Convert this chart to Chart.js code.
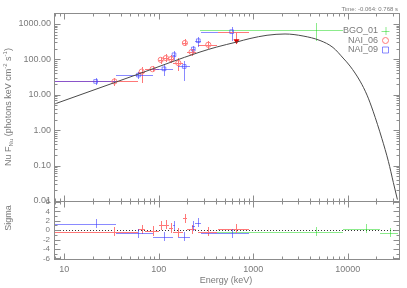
<!DOCTYPE html>
<html>
<head>
<meta charset="utf-8">
<title>Spectrum fit</title>
<script src="https://cdn.jsdelivr.net/npm/chart.js@4.4.1/dist/chart.umd.min.js"></script>
<style>
  body { margin: 0; background: #ffffff; }
  #chartBox { width: 407px; height: 288px; }
</style>
</head>
<body>
<div id="chartBox"><canvas id="spectrumChart" width="407" height="288"></canvas></div>
<script>
// Axis ranges and tick labels
const energyMin = 7.8;
const energyMax = 35000;
const fluxMin = 0.01;
const fluxMax = 2000;
const sigmaMin = -6.2;
const sigmaMax = 6.2;
const energyTicks = [10, 100, 1000, 10000];
const fluxTicks = [0.01, 0.1, 1, 10, 100, 1000];
const sigmaTicks = [-6, -4, -2, 0, 2, 4, 6];

// Model curve (keV / photons keV cm^-2 s^-1)
const modelEnergy = [7.8, 60.7, 273, 410, 667, 922, 1397, 2166, 3360, 5080, 6970, 8900, 10550, 13460, 15960, 18490, 22860, 26840, 30270, 33420];
const modelFlux = [5.42, 38.4, 161, 223, 309, 388, 479, 521, 457, 341, 216, 109, 64.6, 24.3, 9.75, 3.43, 0.59, 0.131, 0.0334, 0.011];

// NAI_06 (red) - bin centre, bin edges, flux with error range, residual
const nai06Energy = [34, 66, 86, 105, 119, 135, 161, 189, 222, 334, 664];
const nai06Low = [8, 60, 72, 100, 110, 128, 142, 180, 198, 258, 428];
const nai06High = [60, 72, 100, 110, 128, 142, 180, 198, 246, 410, 900];
const nai06Flux = [23.8, 45, 53, 97, 109, 102, 79, 290, 161, 259, null];
const nai06FluxLow = [18, 22, 43, 74, 82, 79, 48, 242, 127, 196, null];
const nai06FluxHigh = [29, 59, 65, 119, 141, 132, 109, 377, 196, 336, null];
const nai06Limit = [null, null, null, null, null, null, null, null, null, null, 605];
const nai06LimitTip = [null, null, null, null, null, null, null, null, null, null, 284];
const nai06Sigma = [-0.35, 0.15, -0.2, 1.0, 1.2, 0.5, -0.45, 2.5, 0.15, -0.35, 0.35];

// NAI_09 (blue)
const nai09Energy = [21.5, 61, 113.5, 145, 186, 232, 262, 590];
const nai09Low = [8, 35, 87, 140, 160, 222, 242, 282];
const nai09High = [35, 87, 140, 150, 212, 242, 282, 898];
const nai09Flux = [23.8, 35.9, 54, 135, 63, 196, 336, 605];
const nai09FluxLow = [18.7, 27.5, 34, 99, 25, 155, 220, 336];
const nai09FluxHigh = [29.5, 44.7, 74, 175, 92, 242, 420, 807];
const nai09Sigma = [1.36, -0.7, -1.4, 1.0, -1.4, 0.85, 1.6, -0.7];

// BGO_01 (green)
const bgo01Energy = [4587, 15400, 27950];
const bgo01Low = [273, 8900, 21900];
const bgo01High = [8900, 21900, 34000];
const bgo01Flux = [676, null, null];
const bgo01FluxLow = [340, null, null];
const bgo01FluxHigh = [1070, null, null];
const bgo01Sigma = [-0.35, 0.3, -0.55];

// Red is solid, blue is see-through so the overlap turns purple
const RED = '#ff7878';
const BLUE = 'rgba(60, 60, 255, 0.6)';
const GREEN = 'rgba(0, 210, 0, 0.45)';
const DARK_RED = '#e00000';
const AXIS = '#8c8c8c';
const TEXT = '#7a7a7a';
const FONT = '"Liberation Sans", Arial, sans-serif';

const detectors = [
  { name: 'BGO_01', color: GREEN, style: 'cross', energy: bgo01Energy, low: bgo01Low, high: bgo01High,
    flux: bgo01Flux, fluxLow: bgo01FluxLow, fluxHigh: bgo01FluxHigh, sigma: bgo01Sigma },
  { name: 'NAI_06', color: RED, style: 'circle', energy: nai06Energy, low: nai06Low, high: nai06High,
    flux: nai06Flux, fluxLow: nai06FluxLow, fluxHigh: nai06FluxHigh, sigma: nai06Sigma },
  { name: 'NAI_09', color: BLUE, style: 'rect', energy: nai09Energy, low: nai09Low, high: nai09High,
    flux: nai09Flux, fluxLow: nai09FluxLow, fluxHigh: nai09FluxHigh, sigma: nai09Sigma }
];

// Snap to pixel centre for 1px lines
function crisp(v) {
  return Math.round(v) + 0.5;
}

// 1..9 x 10^n tick positions inside a log range
function logTickList(min, max) {
  const list = [];
  for (let p = Math.floor(Math.log10(min)); p <= Math.ceil(Math.log10(max)); p++) {
    for (let m = 1; m < 10; m++) {
      const v = m * Math.pow(10, p);
      if (v >= min * 0.999 && v <= max * 1.001) list.push({ v: v, major: m === 1 });
    }
  }
  return list;
}

// Horizontal bin bars and vertical error bars, clipped to one panel
function drawErrorBars(ctx, xs, ys, det, useSigma) {
  ctx.save();
  ctx.beginPath();
  ctx.rect(xs.left, ys.top, xs.right - xs.left, ys.bottom - ys.top);
  ctx.clip();
  ctx.strokeStyle = det.color;
  ctx.lineWidth = 1;
  ctx.beginPath();
  for (let i = 0; i < det.energy.length; i++) {
    let v, lo, hi;
    if (useSigma) {
      v = det.sigma[i]; lo = v - 1; hi = v + 1;
    } else {
      v = det.flux[i]; lo = det.fluxLow[i]; hi = det.fluxHigh[i];
    }
    if (v == null) continue;
    const px = crisp(xs.getPixelForValue(det.energy[i]));
    const py = crisp(ys.getPixelForValue(v));
    ctx.moveTo(Math.round(xs.getPixelForValue(det.low[i])), py);
    ctx.lineTo(Math.round(xs.getPixelForValue(det.high[i])), py);
    ctx.moveTo(px, Math.round(ys.getPixelForValue(hi)));
    ctx.lineTo(px, Math.round(ys.getPixelForValue(lo)));
  }
  ctx.stroke();
  ctx.restore();
}

// NAI_06 upper limit: bar at the limit and an arrow down
function drawUpperLimits(ctx, xs, ys) {
  for (let i = 0; i < nai06Energy.length; i++) {
    if (nai06Limit[i] == null) continue;
    const px = crisp(xs.getPixelForValue(nai06Energy[i]));
    const top = crisp(ys.getPixelForValue(nai06Limit[i]));
    const tip = ys.getPixelForValue(nai06LimitTip[i]);
    ctx.save();
    ctx.strokeStyle = RED;
    ctx.lineWidth = 1;
    ctx.beginPath();
    ctx.moveTo(Math.round(xs.getPixelForValue(nai06Low[i])), top);
    ctx.lineTo(Math.round(xs.getPixelForValue(nai06High[i])), top);
    ctx.moveTo(px, top);
    ctx.lineTo(px, tip - 3);
    ctx.stroke();
    ctx.fillStyle = DARK_RED;
    ctx.beginPath();
    ctx.moveTo(px - 3, tip - 4);
    ctx.lineTo(px + 3, tip - 4);
    ctx.lineTo(px, tip + 1);
    ctx.closePath();
    ctx.fill();
    ctx.restore();
  }
}

// Marker shapes used in the legend
function drawMarker(ctx, style, x, y, color) {
  ctx.save();
  ctx.strokeStyle = color;
  ctx.lineWidth = 1;
  ctx.beginPath();
  if (style === 'cross') {
    ctx.moveTo(x - 4, y + 0.5); ctx.lineTo(x + 4, y + 0.5);
    ctx.moveTo(x + 0.5, y - 4); ctx.lineTo(x + 0.5, y + 4);
  } else if (style === 'circle') {
    ctx.arc(x, y, 3, 0, Math.PI * 2);
  } else {
    ctx.rect(x - 3, y - 3, 6, 6);
  }
  ctx.stroke();
  ctx.restore();
}

// Rotated title made of pieces with sub / superscripts
function drawVerticalTitle(ctx, parts, x, cy) {
  ctx.save();
  ctx.translate(x, cy);
  ctx.rotate(-Math.PI / 2);
  ctx.fillStyle = TEXT;
  ctx.textBaseline = 'alphabetic';
  ctx.textAlign = 'left';
  let total = 0;
  parts.forEach(p => {
    ctx.font = p.size + 'px ' + FONT;
    p.w = ctx.measureText(p.t).width;
    total += p.w;
  });
  let u = -total / 2;
  parts.forEach(p => {
    ctx.font = p.size + 'px ' + FONT;
    ctx.fillText(p.t, u, p.dy);
    u += p.w;
  });
  ctx.restore();
}

const panelPlugin = {
  id: 'panelPlugin',
  beforeDatasetsDraw(chart) {
    const ctx = chart.ctx;
    const xs = chart.scales.x, ym = chart.scales.yMain, yr = chart.scales.yRes;

    // Zero line of the residual panel
    ctx.save();
    ctx.strokeStyle = '#333333';
    ctx.setLineDash([1, 2]);
    ctx.beginPath();
    const y0 = crisp(yr.getPixelForValue(0));
    ctx.moveTo(xs.left, y0);
    ctx.lineTo(xs.right, y0);
    ctx.stroke();
    ctx.restore();

    detectors.forEach(det => {
      drawErrorBars(ctx, xs, ym, det, false);
      drawErrorBars(ctx, xs, yr, det, true);
    });
    drawUpperLimits(ctx, xs, ym);
  },
  afterDraw(chart) {
    const ctx = chart.ctx;
    const area = chart.chartArea;
    const xs = chart.scales.x, ym = chart.scales.yMain, yr = chart.scales.yRes;

    ctx.save();
    ctx.strokeStyle = AXIS;
    ctx.lineWidth = 1;
    ctx.beginPath();
    // Energy ticks on every horizontal edge, pointing inwards
    const edges = [[ym.top, 1], [ym.bottom, -1], [yr.top, 1], [yr.bottom, -1]];
    logTickList(energyMin, energyMax).forEach(t => {
      const px = crisp(xs.getPixelForValue(t.v));
      const len = t.major ? 6 : 3;
      edges.forEach(([y, dir]) => {
        ctx.moveTo(px, crisp(y));
        ctx.lineTo(px, crisp(y) + dir * len);
      });
    });
    // Flux ticks left and right
    logTickList(fluxMin, fluxMax).forEach(t => {
      const py = crisp(ym.getPixelForValue(t.v));
      const len = t.major ? 6 : 3;
      ctx.moveTo(crisp(area.left), py); ctx.lineTo(crisp(area.left) + len, py);
      ctx.moveTo(crisp(area.right), py); ctx.lineTo(crisp(area.right) - len, py);
    });
    // Sigma ticks
    for (let s = -6; s <= 6; s++) {
      const py = crisp(yr.getPixelForValue(s));
      const len = s % 2 === 0 ? 6 : 3;
      ctx.moveTo(crisp(area.left), py); ctx.lineTo(crisp(area.left) + len, py);
      ctx.moveTo(crisp(area.right), py); ctx.lineTo(crisp(area.right) - len, py);
    }
    ctx.stroke();
    // Panel frames
    ctx.strokeRect(crisp(area.left), crisp(ym.top), Math.round(area.right - area.left), Math.round(ym.bottom - ym.top));
    ctx.strokeRect(crisp(area.left), crisp(yr.top), Math.round(area.right - area.left), Math.round(yr.bottom - yr.top));
    ctx.restore();

    // Legend
    ctx.save();
    ctx.font = '9px ' + FONT;
    ctx.fillStyle = TEXT;
    ctx.textAlign = 'right';
    ctx.textBaseline = 'middle';
    detectors.forEach((det, i) => {
      const y = 31 + i * 9.5;
      ctx.fillText(det.name, 378, y);
      drawMarker(ctx, det.style, 385.5, y, det.color);
    });

    // Time interval note
    ctx.font = '6px ' + FONT;
    ctx.textBaseline = 'alphabetic';
    ctx.fillText('Time: -0.064: 0.768 s', 398, 11);

    // Axis titles
    ctx.font = '9px ' + FONT;
    ctx.textAlign = 'center';
    ctx.fillText('Energy (keV)', 226, 283);
    ctx.restore();

    drawVerticalTitle(ctx, [
      { t: 'Nu F', size: 9, dy: 0 },
      { t: 'Nu', size: 6, dy: 2 },
      { t: ' (photons keV cm', size: 9, dy: 0 },
      { t: '-2', size: 6, dy: -4 },
      { t: ' s', size: 9, dy: 0 },
      { t: '-1', size: 6, dy: -4 },
      { t: ')', size: 9, dy: 0 }
    ], 11, 107);
    drawVerticalTitle(ctx, [{ t: 'Sigma', size: 9, dy: 0 }], 11, 218);
  }
};

// Build datasets from the arrays above
function pointsOf(det) {
  return det.energy
    .map((e, i) => ({ x: e, y: det.flux[i] }))
    .filter(p => p.y != null);
}

const datasets = [{
  label: 'model',
  type: 'line',
  data: modelEnergy.map((e, i) => ({ x: e, y: modelFlux[i] })),
  xAxisID: 'x',
  yAxisID: 'yMain',
  borderColor: '#4a4a4a',
  borderWidth: 1,
  pointRadius: 0,
  cubicInterpolationMode: 'monotone',
  fill: false
}];
detectors.forEach(det => {
  datasets.push({
    type: 'scatter',
    label: det.name,
    data: pointsOf(det),
    xAxisID: 'x',
    yAxisID: 'yMain',
    showLine: false,
    pointStyle: det.style,
    pointRadius: det.style === 'cross' ? 0 : 2.6,
    borderColor: det.color,
    backgroundColor: 'rgba(0,0,0,0)',
    borderWidth: 1
  });
});

const tickFont = { family: FONT, size: 9 };

new Chart(document.getElementById('spectrumChart'), {
  type: 'scatter',
  data: { datasets: datasets },
  options: {
    responsive: false,
    animation: false,
    devicePixelRatio: 1,
    layout: { padding: { top: 13.3, right: 7.7, left: 0, bottom: 0 } },
    plugins: { legend: { display: false }, tooltip: { enabled: false } },
    scales: {
      x: {
        type: 'logarithmic',
        position: 'bottom',
        min: energyMin,
        max: energyMax,
        grid: { display: false, drawTicks: false },
        border: { display: false },
        afterBuildTicks: s => { s.ticks = energyTicks.map(v => ({ value: v })); },
        afterFit: s => { s.height = 28.7; },
        ticks: {
          color: TEXT, font: tickFont, padding: 5, maxRotation: 0, autoSkip: false,
          callback: v => String(v)
        }
      },
      yRes: {
        type: 'linear',
        position: 'left',
        stack: 'panels',
        stackWeight: 58.3,
        weight: 1,
        min: sigmaMin,
        max: sigmaMax,
        grid: { display: false, drawTicks: false },
        border: { display: false },
        afterBuildTicks: s => { s.ticks = sigmaTicks.map(v => ({ value: v })); },
        afterFit: s => { s.width = 54; },
        ticks: {
          color: TEXT, font: { family: FONT, size: 8 }, padding: 4, autoSkip: false,
          callback: v => String(v)
        }
      },
      yMain: {
        type: 'logarithmic',
        position: 'left',
        stack: 'panels',
        stackWeight: 187.7,
        weight: 2,
        min: fluxMin,
        max: fluxMax,
        grid: { display: false, drawTicks: false },
        border: { display: false },
        afterBuildTicks: s => { s.ticks = fluxTicks.map(v => ({ value: v })); },
        afterFit: s => { s.width = 54; },
        ticks: {
          color: TEXT, font: tickFont, padding: 3, autoSkip: false,
          callback: v => Number(v).toFixed(2)
        }
      }
    }
  },
  plugins: [panelPlugin]
});
</script>
</body>
</html>
